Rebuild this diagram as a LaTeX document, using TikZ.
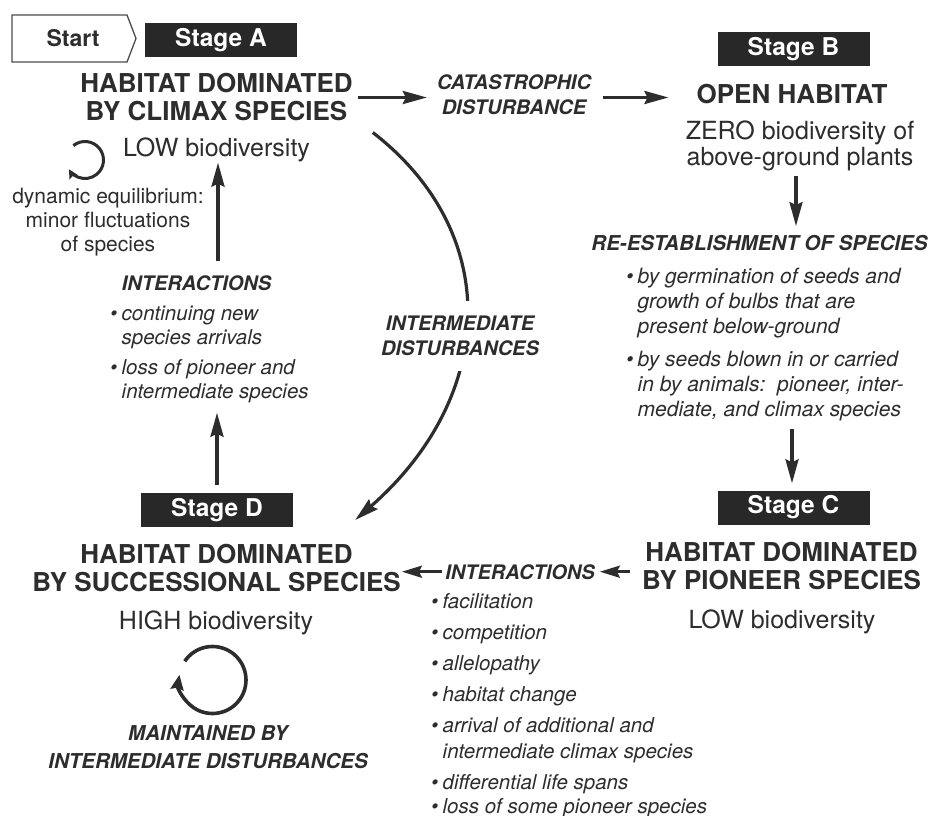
\documentclass[tikz,border=0pt]{standalone}
\usepackage{fontspec}
\setmainfont{TeX Gyre Heros}
\usetikzlibrary{arrows.meta}
\definecolor{ink}{RGB}{45,45,45}
\definecolor{boxc}{RGB}{40,40,40}
\newcommand{\bul}{\makebox[11.5pt][l]{\textbullet}}
\newcommand{\ind}{\hspace*{11.5pt}}
\begin{document}
\begin{tikzpicture}[x=1pt,y=-1pt,
  head/.style={font=\fontsize{26}{28}\selectfont\bfseries, align=center, inner sep=0pt, text=ink},
  sub/.style={font=\fontsize{25}{26}\selectfont, align=center, inner sep=0pt, text=ink},
  lab/.style={font=\fontsize{20}{25}\selectfont\bfseries\itshape, align=center, inner sep=0pt, text=ink},
  lst/.style={font=\fontsize{20.5}{23.5}\selectfont\itshape, align=left, inner sep=0pt, text=ink, anchor=north west},
  stagebox/.style={fill=boxc, text=white, font=\fontsize{24.5}{26}\selectfont\bfseries, minimum width=152pt, minimum height=34pt, inner sep=0pt},
  arr/.style={line width=3.2pt, draw=ink, -{Stealth[length=24pt,width=13pt,inset=3pt]}},
  arrs/.style={line width=3pt, draw=ink, -{Stealth[length=20pt,width=12pt,inset=3pt]}},
  circarr/.style={line width=3.6pt, draw=ink, -{Stealth[length=15pt,width=13pt,inset=2pt]}},
  circarrs/.style={line width=3pt, draw=ink, -{Stealth[length=9pt,width=9pt,inset=1.5pt]}},
]
\fill[white] (0,0) rectangle (937,816);
\useasboundingbox (0,0) rectangle (937,816);

% start and stage boxes
\node[font=\fontsize{23}{24}\selectfont\bfseries, text=ink, inner sep=0pt] (start) at (73,38.5) {Start};
\draw[line width=1.3pt, draw=ink!85, line join=miter]
  ([shift={(-61,-23.5)}]start.center) -- ++(115,0) -- ++(9,23.5) -- ++(-9,23.5) -- ++(-115,0) -- cycle;
\node[stagebox] (sA) at (221,40) {Stage A};
\node[stagebox] (sB) at (793.5,49.5) {Stage B};
\node[stagebox] (sC) at (793.5,507.5) {Stage C};
\node[stagebox] (sD) at (217,510) {Stage D};

% Stage A
\node[head] (hA) at (216.5,97.5) {HABITAT DOMINATED\\BY CLIMAX SPECIES};
\node[sub, anchor=base] (subA) at (216.5,156) {LOW biodiversity};
\node[font=\fontsize{21}{24}\selectfont, align=center, inner sep=0pt, text=ink] (dyn) at (108,222.5)
  {dynamic equilibrium:\\minor fluctuations\\of species};
\node[lab, anchor=base] (intA) at (196.5,290.5) {INTERACTIONS};
\node[lst] (bA) at (110,306)
  {\bul continuing new\\ \ind species arrivals\\[7pt]
   \bul loss of pioneer and\\ \ind intermediate species};

% catastrophic
\node[lab] (cat) at (514,94.5) {CATASTROPHIC\\DISTURBANCE};

% Stage B
\node[head, anchor=base] (hB) at (792,103) {OPEN HABITAT};
\node[sub] (subB) at (800,145.5) {ZERO biodiversity of\\above-ground plants};
\node[lab, font=\fontsize{20.5}{25}\selectfont\bfseries\itshape] (re) at (759.5,243) {RE-ESTABLISHMENT OF SPECIES};
\node[lst, font=\fontsize{21}{25}\selectfont\itshape] (bB) at (626,267.7)
  {\bul by germination of seeds and\\ \ind growth of bulbs that are\\ \ind present below-ground\\[8pt]
   \bul by seeds blown in or carried\\ \ind in by animals:\ \ pioneer, inter-\\ \ind mediate, and climax species};

% Stage C
\node[head] (hC) at (781.5,566.4) {HABITAT DOMINATED\\BY PIONEER SPECIES};
\node[sub, anchor=base] (subC) at (782,628) {LOW biodiversity};
\node[lab, anchor=base] (intD) at (520,579) {INTERACTIONS};
\node[lst, font=\fontsize{20.5}{26}\selectfont\itshape] (bD) at (431,593)
  {\bul facilitation\\[5pt] \bul competition\\[5pt] \bul allelopathy\\[5pt] \bul habitat change\\[5pt]
   \bul arrival of additional and\\ \ind intermediate climax species\\[5pt]
   \bul differential life spans\\[-2pt] \bul loss of some pioneer species};

% Stage D
\node[head] (hD) at (216.5,568.4) {HABITAT DOMINATED\\BY SUCCESSIONAL SPECIES};
\node[sub, anchor=base] (subD) at (216,629) {HIGH biodiversity};
\node[lab, font=\fontsize{20.5}{28}\selectfont\bfseries\itshape] (maint) at (208,747)
  {MAINTAINED BY\\INTERMEDIATE DISTURBANCES};

% circular arrows
\coordinate (cA) at (85,160);
\coordinate (cD) at (212.5,680);
\draw[circarrs] (cA) ++(-129:18.5) arc[start angle=-129, end angle=150, radius=18.5];
\draw[circarr] (cD) ++(-146:33.5) arc[start angle=-146, end angle=189, radius=33.5];

% straight arrows
\draw[arr, shorten <=5pt, shorten >=10pt] (hA.east) -- (hA.east -| cat.west);
\draw[arr, shorten <=12pt, shorten >=28pt] (cat.east |- hA.east) -- (hA.east -| hB.west);
\draw[arr, shorten <=5pt, shorten >=9pt] ([xshift=-4pt]subB.south) -- ([xshift=-4pt]subB.south |- re.north);
\draw[arr, shorten <=8pt, shorten >=7pt] ([xshift=-1.5pt]sC.north |- bB.south) -- ([xshift=-1.5pt]sC.north);
\draw[arrs, shorten <=12pt, shorten >=5pt] (intD.east -| hC.west) -- (intD.east);
\draw[arrs, shorten <=3pt, shorten >=1pt] (intD.west) -- (intD.west -| hD.east);
\draw[arr, shorten <=8pt, shorten >=10pt] (sD.north) -- (sD.north |- bA.south);
\draw[arr, shorten <=14pt, shorten >=1pt] ([xshift=1.5pt]subA.south |- intA.north) -- ([xshift=1.5pt]subA.south);

% intermediate disturbances curve
\coordinate (cS) at ([shift={(20,11)}]hA.south east);
\coordinate (cE) at ([shift={(62,10)}]sD.east);
\draw[arr] (cS) .. controls (505,235) and (495,398) .. (cE);
\node[lab, fill=white, inner xsep=2pt, inner ysep=15pt] (inter) at (460,336) {INTERMEDIATE\\DISTURBANCES};
\end{tikzpicture}
\end{document}
